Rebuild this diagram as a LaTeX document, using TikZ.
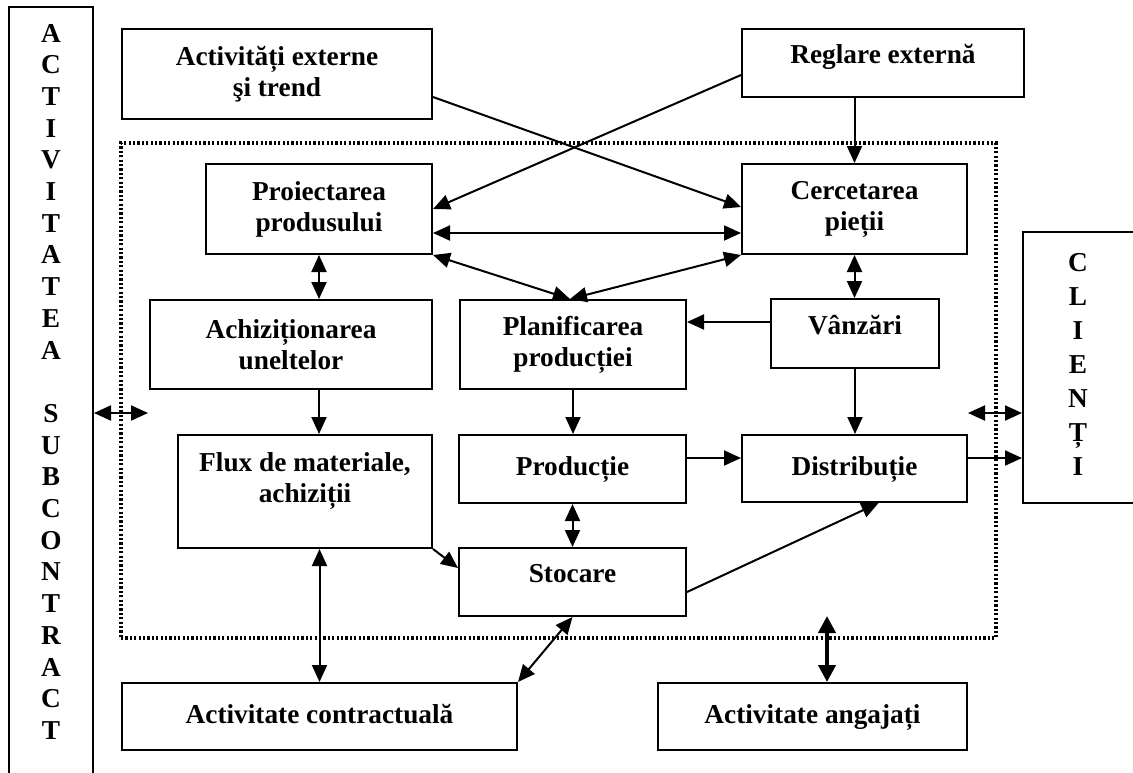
\documentclass[tikz,border=0pt]{standalone}
\usepackage{fontspec}
\setmainfont{Liberation Serif}
\usetikzlibrary{arrows.meta,calc}
\begin{document}
\begin{tikzpicture}[x=0.5pt,y=-0.5pt,
  font=\fontsize{13.65}{15.5}\selectfont\bfseries,
  box/.style={draw,line width=1pt,inner sep=0pt,align=center},
  one/.style={text height=9.5pt,text depth=3pt},
  raised/.style={text height=9.5pt,text depth=9pt},
  arr/.style={-{Triangle[length=8.5pt,width=7.5pt]},line width=1pt},
  darr/.style={{Triangle[length=8.5pt,width=7.5pt]}-{Triangle[length=8.5pt,width=7.5pt]},line width=1pt},
  thickarr/.style={{Triangle[length=8.5pt,width=8.5pt]}-{Triangle[length=8.5pt,width=8.5pt]},line width=2pt},
  frame/.style={draw,line width=1.8pt,dash pattern=on 1.1pt off 1.1pt,inner sep=0pt},
  letter/.style={anchor=base,inner sep=0pt}]
\useasboundingbox (0,0) rectangle (1133,772);
\clip (0,0) rectangle (1133,772);

% dotted frame around the internal activities
\node[frame,minimum width=437.5pt,minimum height=247.5pt] (core) at (558.5,390.5) {};

% side columns
\node[box,minimum width=42pt,minimum height=396.5pt] (sub) at (51,403.5) {};
\foreach \ch [count=\k from 0] in {A,C,T,I,V,I,T,A,T,E,A,{},S,U,B,C,O,N,T,R,A,C,T}
  \node[letter] (sub\k) at (51,{42+31.7*\k}) {\ch};
\node[box,minimum width=63.5pt,minimum height=135.5pt] (cli) at (1086.5,367.5) {};
\foreach \ch [count=\k from 0] in {C,L,I,E,N,Ț,I}
  \node[letter] (cli\k) at (1078,{271+34*\k}) {\ch};

% external boxes
\node[box,minimum width=155pt,minimum height=45pt] (ext) at (277,74) {Activități externe\\şi trend};
\node[box,raised,minimum width=141pt,minimum height=34pt] (reg) at (883,63) {Reglare externă};

% internal boxes
\node[box,minimum width=113pt,minimum height=45pt] (proi) at (319,209) {Proiectarea\\produsului};
\node[box,minimum width=112.5pt,minimum height=45pt] (cerc) at (854.5,209) {Cercetarea\\pieții};
\node[box,minimum width=141pt,minimum height=44.5pt] (achiz) at (291,344.5) {Achiziționarea\\uneltelor};
\node[box,minimum width=113pt,minimum height=44.5pt] (plan) at (573,344.5) {Planificarea\\producției};
\node[box,raised,minimum width=84pt,minimum height=34.5pt] (vanz) at (855,333.5) {Vânzări};
\node[box,minimum width=127pt,minimum height=56.5pt] (flux) at (305,491.5) {};
\node[align=center,inner sep=0pt] (fluxt) at (305,481) {Flux de materiale,\\achiziții};
\node[box,one,minimum width=113.5pt,minimum height=34pt] (prod) at (572.5,469) {Producție};
\node[box,one,minimum width=112.5pt,minimum height=33.5pt] (dist) at (854.5,468.5) {Distribuție};
\node[box,raised,minimum width=113.5pt,minimum height=34pt] (stoc) at (572.5,582) {Stocare};

% bottom boxes
\node[box,one,minimum width=197.5pt,minimum height=33.5pt] (contr) at (319.5,716.5) {Activitate contractuală};
\node[box,one,minimum width=154.5pt,minimum height=33.5pt] (ang) at (812.5,716.5) {Activitate angajați};

% connectors
\draw[arr] ($(ext.east)+(0,23)$) -- ($(cerc.west)+(0,-2)$);
\draw[arr] ($(reg.west)+(0,12)$) -- (proi.east);
\draw[arr] (cerc.north |- reg.south) -- (cerc.north);
\draw[darr] ($(proi.east)+(0,24)$) -- ($(cerc.west)+(0,24)$);
\draw[darr] (proi.south east) -- ($(plan.north)+(-3,0)$);
\draw[darr] (cerc.south west) -- ($(plan.north)+(-3,0)$);
\draw[darr] (proi.south) -- (proi.south |- achiz.north);
\draw[darr] (cerc.south) -- (cerc.south |- vanz.north);
\coordinate (vz) at ($(vanz.west)+(0,-11.5)$);
\draw[arr] (vz) -- (vz -| plan.east);
\draw[arr] (proi.south |- achiz.south) -- (proi.south |- flux.north);
\draw[arr] (plan.south) -- (plan.south |- prod.north);
\draw[arr] (vanz.south) -- (vanz.south |- dist.north);
\coordinate (pd) at ($(prod.east)+(0,-11)$);
\draw[arr] (pd) -- (pd -| dist.west);
\draw[darr] (prod.south) -- (prod.south |- stoc.north);
\draw[arr] (flux.south east) -- ($(stoc.west)+(0,-14)$);
\draw[arr] ($(stoc.east)+(0,10)$) -- ($(dist.south)+(24,0)$);
\draw[darr] (contr.north |- flux.south) -- (contr.north);
\draw[darr] (stoc.south) -- (contr.north east);
\coordinate (angtop) at ($(ang.north)+(14.5,-66)$);
\draw[thickarr] (angtop) -- (angtop |- ang.north);

% links to the side columns
\coordinate (lin) at (148,413);
\draw[darr] (lin -| sub.east) -- (lin);
\coordinate (rin) at (968,413);
\draw[darr] (rin) -- (rin -| cli.west);
\coordinate (dc) at ($(dist.east)+(0,-10.5)$);
\draw[arr] (dc) -- (dc -| cli.west);
\end{tikzpicture}
\end{document}
